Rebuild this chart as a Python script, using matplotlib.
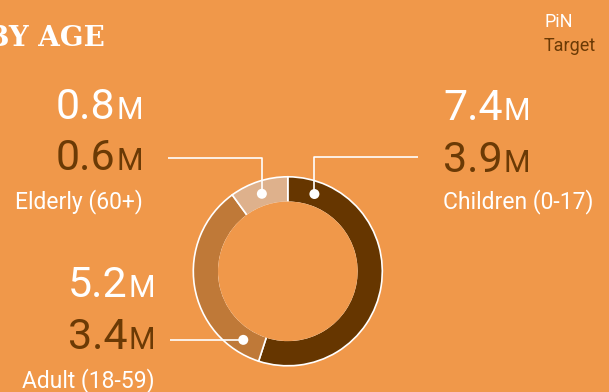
import matplotlib
matplotlib.use("Agg")
import matplotlib.pyplot as plt
import numpy as np
from matplotlib.patches import Circle

# data
groups = ["Children (0-17)", "Adult (18-59)", "Elderly (60+)"]
pin = [7.4, 5.2, 0.8]          # people in need (M)
target = [3.9, 3.4, 0.6]       # targeted (M)
ring_share = [55, 35, 10]      # share of the ring (%)

bg = "#F0984A"
seg_colors = ["#663600", "#BF7938", "#DEB18C"]
dark_text = "#6B3A05"

W, H = 609, 392
fig = plt.figure(figsize=(W / 100, H / 100), dpi=100, facecolor=bg)
ax = fig.add_axes([0, 0, 1, 1])
ax.set_facecolor(bg)

def Y(py):
    # pixel row (from top) -> data y
    return H - py

cx, cy = 287.8, Y(271.3)
r_out, r_in = 94.5, 69.0

wedges, _ = ax.pie(ring_share, colors=seg_colors, startangle=90, counterclock=False,
                   radius=r_out, center=(cx, cy),
                   wedgeprops=dict(width=r_out - r_in, edgecolor="white", linewidth=1.2))
# hide the white edge on the inside of the ring
ax.add_patch(Circle((cx, cy), r_in + 0.8, facecolor=bg, edgecolor="none", zorder=3))

ax.set_xlim(0, W)
ax.set_ylim(0, H)
ax.set_aspect("equal")
ax.axis("off")

# dots on the ring (angle clockwise from top) and leader lines
r_mid = (r_out + r_in) / 2
dot_angle = {"Children (0-17)": 19, "Adult (18-59)": 213, "Elderly (60+)": -18.5}
leaders = {
    "Children (0-17)": [(None, 157), (418, 157)],
    "Elderly (60+)": [(None, 157.5), (168, 157.5)],
    "Adult (18-59)": [(170, None)],
}
for g in groups:
    a = np.deg2rad(dot_angle[g])
    dx, dy = cx + r_mid * np.sin(a), cy + r_mid * np.cos(a)
    pts = [(dx, dy)]
    for px, py in leaders[g]:
        pts.append((dx if px is None else px, dy if py is None else Y(py)))
    xs, ys = zip(*pts)
    ax.plot(xs, ys, color="white", lw=1.2, zorder=4, solid_capstyle="butt")
    ax.add_patch(Circle((dx, dy), 5, facecolor="white", edgecolor="none", zorder=5))

fig.canvas.draw()
renderer = fig.canvas.get_renderer()

big, small, lab = 31, 22, 16.5
fam = ["Roboto", "DejaVu Sans"]

def value(x, py, num, color, align):
    kw = dict(family=fam, fontweight="normal", va="baseline", color=color, zorder=6)
    if align == "left":
        t = ax.text(x, Y(py), f"{num}", fontsize=big, ha="left", **kw)
        bb = t.get_window_extent(renderer)
        ax.text(bb.x1 + 1, Y(py), "M", fontsize=small, ha="left", **kw)
    else:
        m = ax.text(x, Y(py), "M", fontsize=small, ha="right", **kw)
        bb = m.get_window_extent(renderer)
        ax.text(bb.x0 - 1, Y(py), f"{num}", fontsize=big, ha="right", **kw)

# layout: (x, baselines, alignment)
layout = {
    "Children (0-17)": (443, (120, 172, 208), "left"),
    "Elderly (60+)": (143, (119, 169.5, 208), "right"),
    "Adult (18-59)": (155, (297, 349, 387), "right"),
}
for g, p, t in zip(groups, pin, target):
    x, (b1, b2, b3), al = layout[g]
    value(x, b1, p, "white", al)
    value(x, b2, t, dark_text, al)
    ax.text(x, Y(b3), g, fontsize=lab, family=fam, color="white",
            ha=al, va="baseline", zorder=6)

ax.text(105, Y(46), "BY AGE", fontsize=20, fontweight="bold", family="DejaVu Serif",
        color="white", ha="right", va="baseline")
ax.text(544, Y(27), "PiN", fontsize=13, family=fam, color="white", ha="left", va="baseline")
ax.text(544, Y(51), "Target", fontsize=13, family=fam, color=dark_text, ha="left", va="baseline")

fig.savefig("out.png", dpi=100, facecolor=bg)
